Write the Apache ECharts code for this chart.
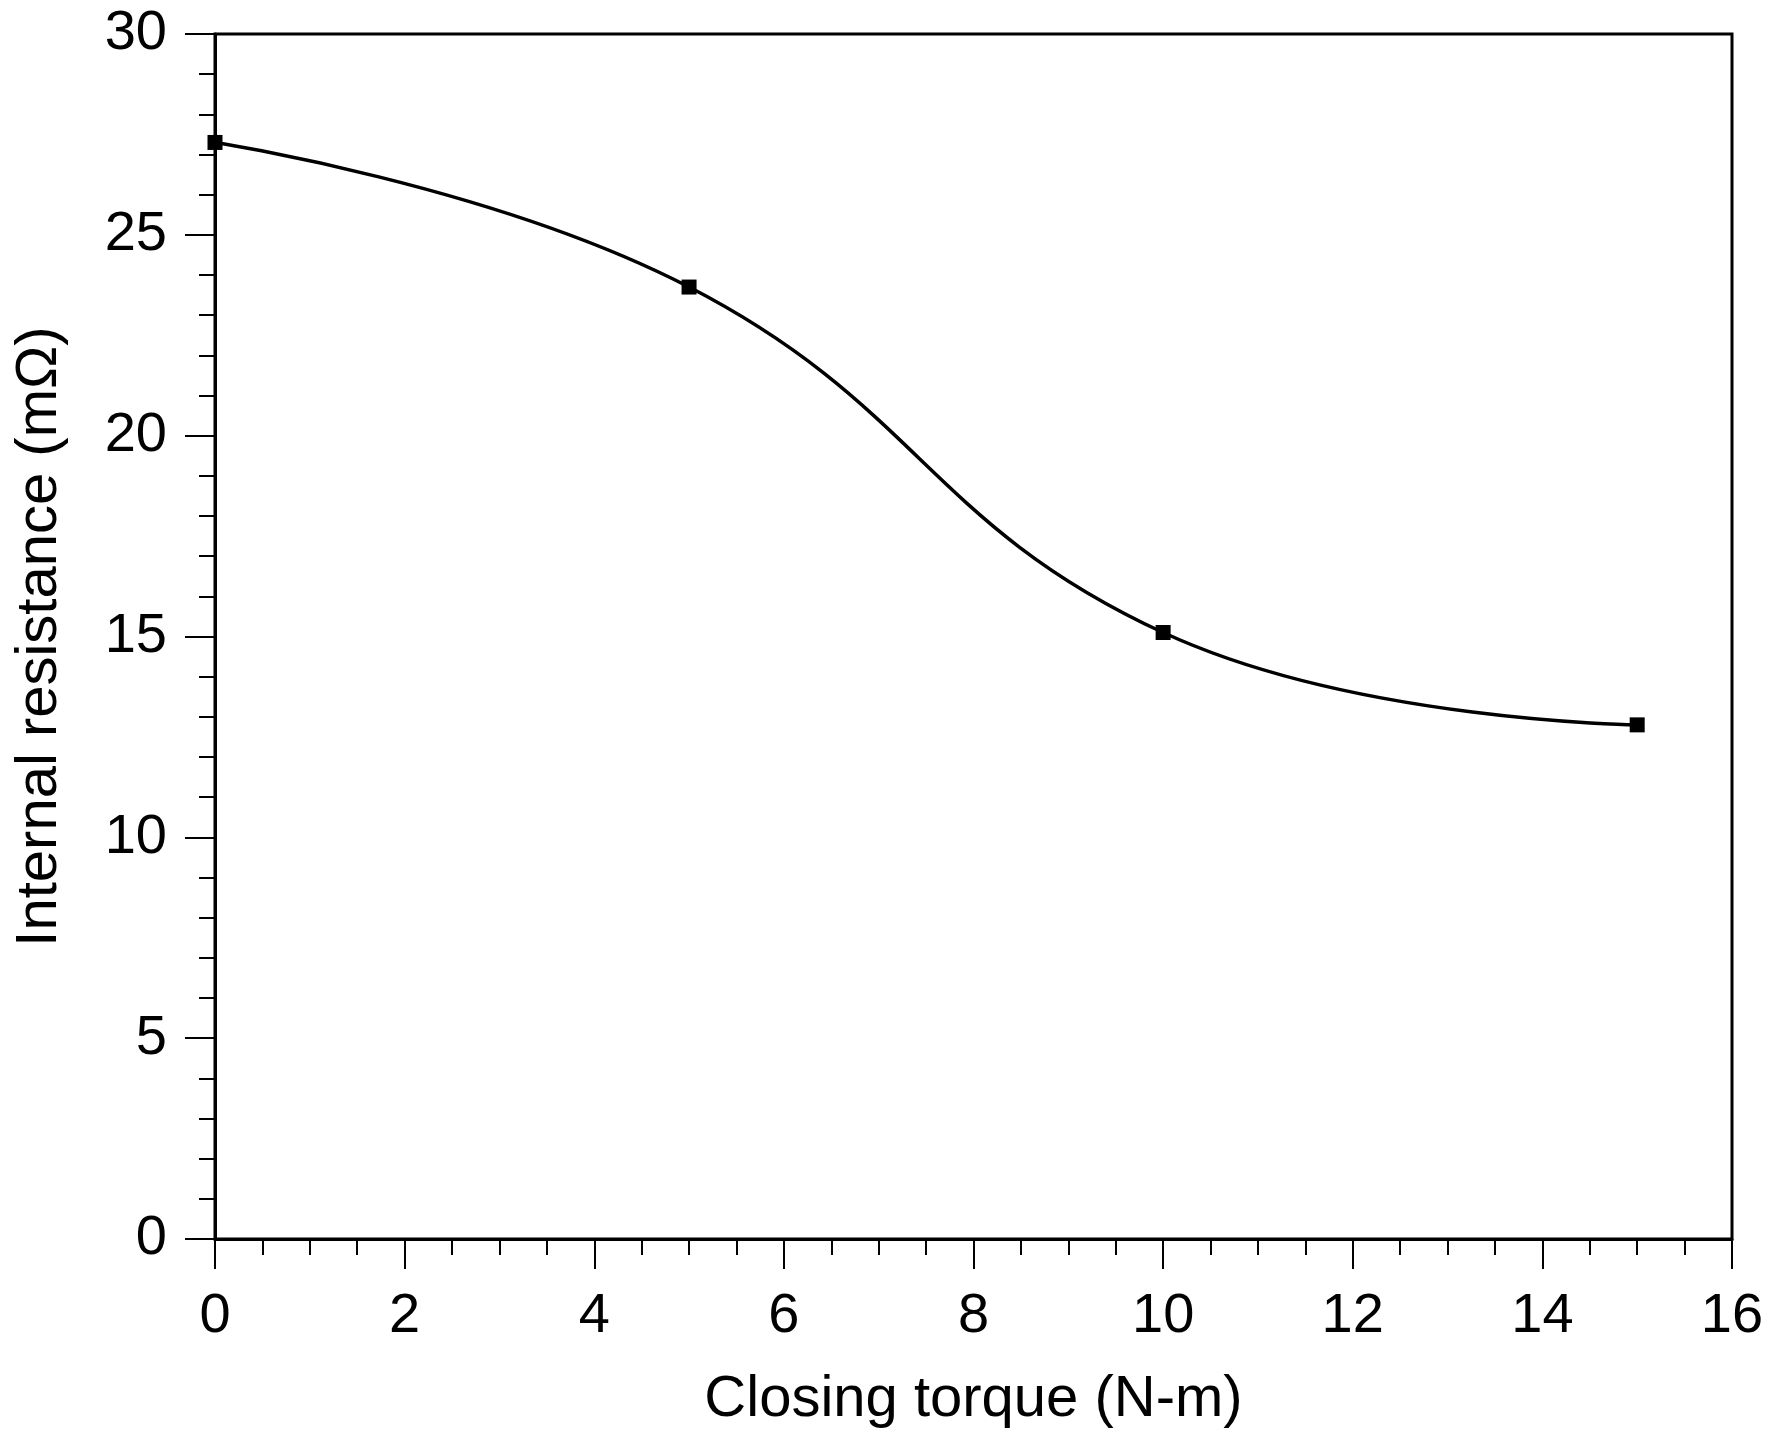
<!DOCTYPE html>
<html>
<head>
<meta charset="utf-8">
<script src="https://cdn.jsdelivr.net/npm/echarts@6/dist/echarts.min.js"></script>
<style>
html, body { margin: 0; padding: 0; background: #fff; }
#chart { width: 1772px; height: 1435px; }
</style>
</head>
<body>
<div id="chart"></div>
<script>
// closing torque (N-m) vs internal resistance (mΩ)
const torque = [0, 5, 10, 15];
const resistance = [27.3, 23.7, 15.1, 12.8];

const font = 'Liberation Sans, Arial, sans-serif';
const chart = echarts.init(document.getElementById('chart'));

const axisCommon = {
    axisLine: { show: true, lineStyle: { color: '#000', width: 3 } },
    axisTick: { show: true, inside: false, length: 30, lineStyle: { color: '#000', width: 2 } },
    minorTick: { show: true, length: 16, lineStyle: { color: '#000', width: 2 } },
    splitLine: { show: false },
    nameLocation: 'middle',
    nameTextStyle: { color: '#000', fontSize: 58, fontFamily: font }
};

chart.setOption({
    animation: false,
    backgroundColor: '#fff',
    grid: {
        left: 215, top: 34, right: 40, bottom: 196,
        show: true, borderColor: '#000', borderWidth: 3
    },
    xAxis: Object.assign({}, axisCommon, {
        type: 'value',
        min: 0, max: 16, interval: 2,
        name: 'Closing torque (N-m)',
        nameGap: 132,
        minorTick: Object.assign({}, axisCommon.minorTick, { splitNumber: 4 }),
        axisLabel: { color: '#000', fontSize: 56, fontFamily: font, margin: 50 }
    }),
    yAxis: Object.assign({}, axisCommon, {
        type: 'value',
        min: 0, max: 30, interval: 5,
        name: 'Internal resistance (mΩ)',
        nameGap: 146,
        minorTick: Object.assign({}, axisCommon.minorTick, { splitNumber: 5 }),
        axisLabel: { color: '#000', fontSize: 56, fontFamily: font, margin: 48 }
    }),
    series: [{
        type: 'line',
        data: torque.map((t, i) => [t, resistance[i]]),
        smooth: 0.45,
        symbol: 'rect',
        symbolSize: 15,
        lineStyle: { color: '#000', width: 3.5 },
        itemStyle: { color: '#000' }
    }]
});
</script>
</body>
</html>
